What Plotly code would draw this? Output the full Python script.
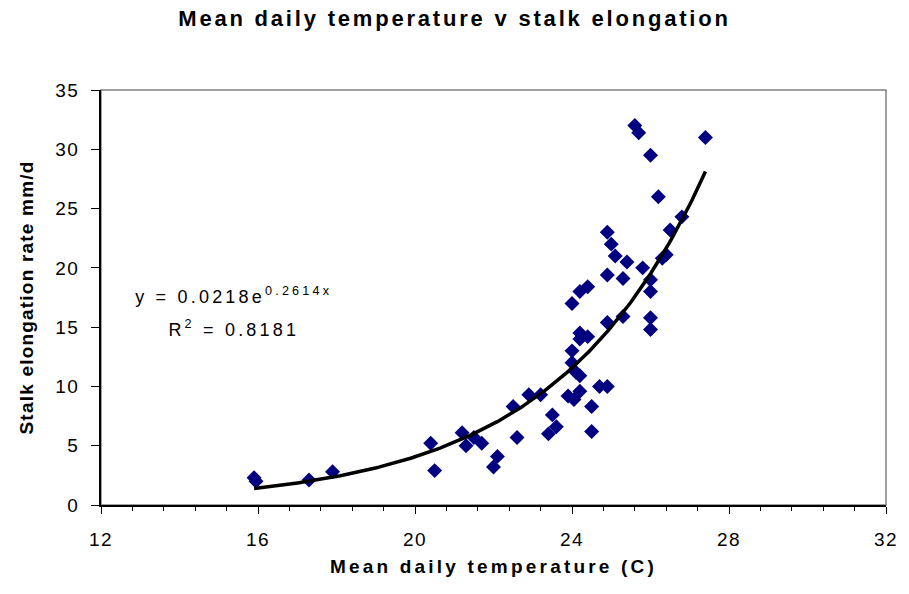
import numpy as np
import plotly.graph_objects as go

# ---- data ----
temperature = [15.9, 15.95, 17.3, 17.9, 20.4, 20.5, 21.2, 21.3, 21.5, 21.7,
               22.0, 22.1, 22.5, 22.6, 22.9, 23.2, 23.4, 23.5, 23.6, 23.9,
               24.05, 24.2, 24.2, 24.1, 24.0, 24.0, 24.2, 24.2, 24.4, 24.0,
               24.2, 24.4, 24.5, 24.5, 24.7, 24.9, 24.9, 24.9, 24.9, 25.0,
               25.1, 25.3, 25.3, 25.4, 25.6, 25.7, 25.8, 26.0, 26.0, 26.0,
               26.0, 26.0, 26.2, 26.3, 26.4, 26.5, 26.8, 27.4]
elongation = [2.3, 2.0, 2.1, 2.8, 5.2, 2.9, 6.1, 5.0, 5.7, 5.2,
              3.2, 4.1, 8.3, 5.7, 9.3, 9.3, 6.0, 7.6, 6.6, 9.2,
              8.9, 9.6, 10.9, 11.2, 12.0, 13.0, 14.0, 14.5, 14.2, 17.0,
              18.0, 18.4, 8.3, 6.2, 10.0, 10.0, 15.4, 19.4, 23.0, 22.0,
              21.0, 15.9, 19.1, 20.5, 32.0, 31.4, 20.0, 29.5, 19.0, 18.0,
              15.8, 14.8, 26.0, 20.8, 21.1, 23.2, 24.3, 31.0]

# exponential trendline as displayed on the chart
fit_a = 0.0218
fit_b = 0.2614
fit_r2 = 0.8181

x_ticks = [12, 16, 20, 24, 28, 32]
y_ticks = [0, 5, 10, 15, 20, 25, 30, 35]

title_text = "Mean daily temperature v stalk elongation"
x_title = "Mean daily temperature (C)"
y_title = "Stalk elongation rate mm/d"

FONT = "Liberation Sans, Arial, Helvetica, sans-serif"

trend_x = np.linspace(min(temperature), max(temperature), 200)
trend_y = fit_a * np.exp(fit_b * trend_x)

fig = go.Figure()
fig.add_trace(go.Scatter(
    x=temperature, y=elongation, mode="markers",
    marker=dict(symbol="diamond", size=11.5, color="#000080", line=dict(width=0)),
    showlegend=False, hoverinfo="x+y"))
fig.add_trace(go.Scatter(
    x=trend_x, y=trend_y, mode="lines",
    line=dict(color="black", width=3.5),
    showlegend=False, hoverinfo="skip"))

# grey plot-area border (top and right show grey; left/bottom covered by black axes)
fig.add_shape(type="rect", xref="paper", yref="paper", x0=0, x1=1, y0=0, y1=1,
              line=dict(color="#808080", width=1.5), layer="below")

fig.add_annotation(
    text="y = %.4fe<sup>%.4fx</sup>" % (fit_a, fit_b),
    xref="paper", yref="paper", x=0.170, y=0.505,
    xanchor="center", yanchor="middle", showarrow=False,
    font=dict(family=FONT, size=18, color="black"))
fig.add_annotation(
    text="R<sup>2</sup> = %.4f" % fit_r2,
    xref="paper", yref="paper", x=0.170, y=0.426,
    xanchor="center", yanchor="middle", showarrow=False,
    font=dict(family=FONT, size=18, color="black"))

fig.update_layout(
    width=909, height=594,
    margin=dict(l=101, r=15, t=90, b=89),
    paper_bgcolor="white", plot_bgcolor="white",
    font=dict(family=FONT, color="black"),
    title=dict(text="<b>%s</b>" % title_text, x=0.5, xref="container", xanchor="center",
               y=1 - 18 / 594, yref="container", yanchor="middle",
               font=dict(family=FONT, size=22, color="black")),
    xaxis=dict(range=[12, 32], tickmode="array", tickvals=x_ticks,
               ticktext=[str(v) for v in x_ticks],
               ticks="outside", ticklen=7, tickwidth=1, tickcolor="black",
               showline=True, linecolor="black", linewidth=1.5,
               showgrid=False, zeroline=False,
               minor=dict(ticks="outside", ticklen=4, tickwidth=1, tickcolor="black",
                          tick0=12, dtick=0.8, showgrid=False),
               tickfont=dict(family=FONT, size=19, color="black"),
               ticklabelstandoff=9,
               title=dict(text="<b>%s</b>" % x_title, standoff=11,
                          font=dict(family=FONT, size=19, color="black"))),
    yaxis=dict(range=[0, 35], tickmode="array", tickvals=y_ticks,
               ticktext=[str(v) for v in y_ticks],
               ticks="outside", ticklen=8, tickwidth=1, tickcolor="black",
               showline=True, linecolor="black", linewidth=1.5,
               showgrid=False, zeroline=False,
               tickfont=dict(family=FONT, size=19, color="black"),
               ticklabelstandoff=8,
               title=dict(text="<b>%s</b>" % y_title, standoff=20,
                          font=dict(family=FONT, size=19, color="black"))),
)

css_script = """
var st = document.createElement('style');
st.textContent = '.gtitle{letter-spacing:2.8px} .xtitle{letter-spacing:3.2px} .ytitle{letter-spacing:1.2px} .xtick text,.ytick text{letter-spacing:1.5px} .annotation-text{letter-spacing:3.2px}';
document.head.appendChild(st);
"""

fig.write_html("out.html", config={"responsive": False, "displayModeBar": False},
               post_script=css_script)
